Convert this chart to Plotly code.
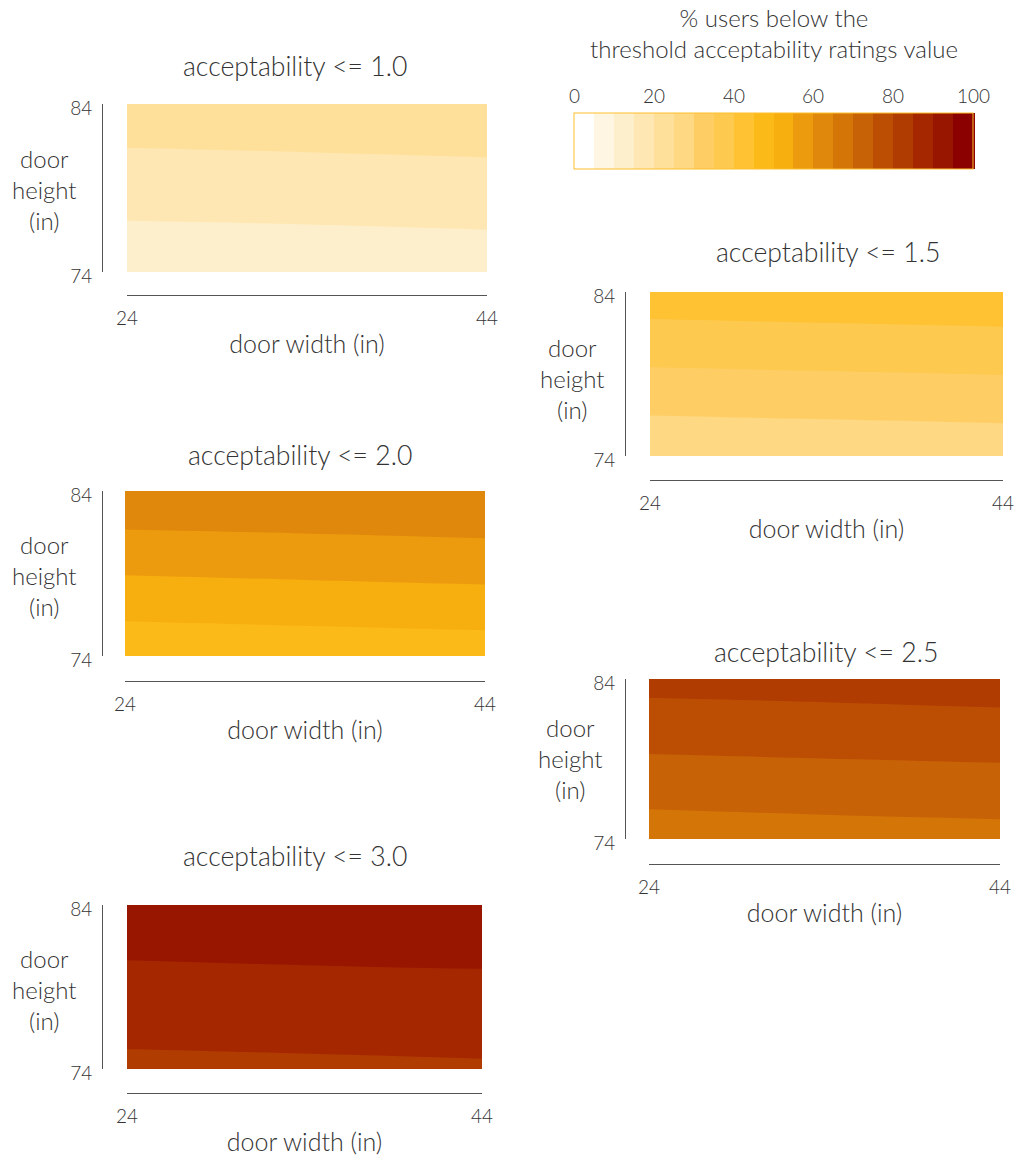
import plotly.graph_objects as go

W, H = 1029, 1164

# ---------------- data ----------------
widths = [24, 34, 44]                 # door width (in)
heights = [74, 76, 78, 80, 82, 84]    # door height (in)
thresholds = ["1.0", "1.5", "2.0", "2.5", "3.0"]

# % users below threshold; rows = heights, cols = widths
z_10 = [[11.4, 11.7, 12.0],
        [13.8, 14.0, 14.4],
        [16.1, 16.4, 16.7],
        [18.4, 18.7, 19.0],
        [20.7, 21.0, 21.4],
        [23.0, 23.3, 23.7]]
z_15 = [[25.8, 26.2, 26.7],
        [29.2, 29.6, 30.0],
        [32.6, 33.0, 33.4],
        [36.0, 36.4, 36.8],
        [39.4, 39.8, 40.2],
        [42.8, 43.2, 43.6]]
z_20 = [[46.3, 46.8, 47.2],
        [49.8, 50.3, 50.8],
        [53.4, 53.9, 54.4],
        [57.0, 57.5, 58.0],
        [60.6, 61.0, 61.5],
        [64.1, 64.5, 64.9]]
z_25 = [[67.4, 67.8, 68.2],
        [70.2, 70.7, 71.1],
        [73.1, 73.5, 73.9],
        [76.0, 76.4, 76.8],
        [78.8, 79.2, 79.7],
        [81.7, 82.1, 82.5]]
z_30 = [[83.9, 84.1, 84.4],
        [85.7, 86.0, 86.3],
        [87.6, 87.8, 88.1],
        [89.4, 89.7, 89.9],
        [91.3, 91.5, 91.8],
        [93.1, 93.4, 93.6]]
z_all = [z_10, z_15, z_20, z_25, z_30]

band_colors = ["#ffffff", "#fef6e3", "#feefcc", "#fee7b2", "#fee09a",
               "#fed883", "#fece65", "#fdc94f", "#fec233", "#fbba18",
               "#f7ae0f", "#ec9b0e", "#e0880c", "#d47508", "#c86206",
               "#bc4e04", "#b03c02", "#a42700", "#981500", "#8b0000"]
cb_ticks = [0, 20, 40, 60, 80, 100]
level_start, level_end, level_size = 0, 100, 5

# ---------------- layout (page pixels) ----------------
# plot box x0,x1,y0,y1 ; y-axis line x ; x-axis line y ; title pos ; y-title pos
panels = [
    dict(x0=127, x1=487, y0=104, y1=272, yl=102, xl=295, t=(295, 66), yt=(44, 190)),
    dict(x0=650, x1=1003, y0=292, y1=456, yl=625, xl=480, t=(828, 252), yt=(572, 379)),
    dict(x0=125, x1=485, y0=491, y1=656, yl=102, xl=681, t=(300, 455), yt=(44, 575)),
    dict(x0=649, x1=1000, y0=679, y1=839, yl=625, xl=864, t=(826, 652), yt=(570, 758)),
    dict(x0=127, x1=482, y0=905, y1=1069, yl=102, xl=1093, t=(295, 856), yt=(44, 989)),
]
cb = dict(x0=574, x1=973, y0=113, y1=169)


def px(x):
    return x / W


def py(y):
    return 1 - y / H


FONT = "Lato"
TXT = "#333333"
LINE = "#555555"

# stepped colour scale: one flat step per 5% band over [0, 100]
n = len(band_colors)
colorscale = []
for k, c in enumerate(band_colors):
    colorscale.append([k / n, c])
    colorscale.append([(k + 1) / n, c])

fig = go.Figure()
annotations = []
layout = {}

for i, (p, z, th) in enumerate(zip(panels, z_all, thresholds)):
    sx = "" if i == 0 else str(i + 1)
    tr = go.Contour(
        x=widths, y=heights, z=z,
        zmin=level_start, zmax=level_end,
        contours=dict(start=level_start, end=level_end, size=level_size,
                      coloring="fill", showlines=False),
        line=dict(width=0),
        colorscale=colorscale,
        showscale=(i == 0),
        xaxis="x" + sx, yaxis="y" + sx,
        hovertemplate="width %{x}<br>height %{y}<br>%{z:.1f}%<extra></extra>",
    )
    if i == 0:
        tr.colorbar = dict(
            orientation="h",
            x=px((cb["x0"] + cb["x1"]) / 2), xanchor="center",
            y=py(cb["y0"]), yanchor="top",
            len=cb["x1"] - cb["x0"], lenmode="pixels",
            thickness=cb["y1"] - cb["y0"], thicknessmode="pixels",
            xpad=0, ypad=0,
            outlinecolor="#fdbf2d", outlinewidth=1,
            showticklabels=False, ticks="",
        )
    fig.add_trace(tr)

    layout["xaxis" + sx] = dict(
        domain=[px(p["x0"]), px(p["x1"])], range=[24, 44],
        anchor="free", position=py(p["xl"]),
        showline=True, linecolor=LINE, linewidth=1,
        tickvals=[24, 44], ticks="", showgrid=False, zeroline=False,
        ticklabelstandoff=6,
        tickfont=dict(family=FONT, size=19, color=TXT, weight=300),
        title=dict(text="door width (in)", standoff=7,
                   font=dict(family=FONT, size=25, color=TXT, weight=300)),
    )
    layout["yaxis" + sx] = dict(
        domain=[py(p["y1"]), py(p["y0"])], range=[74, 84],
        anchor="free", position=px(p["yl"]),
        showline=True, linecolor=LINE, linewidth=1,
        tickvals=[74, 84], ticks="", showgrid=False, zeroline=False,
        ticklabelstandoff=6, ticklabelshift=4,
        tickfont=dict(family=FONT, size=19, color=TXT, weight=300),
    )
    annotations.append(dict(
        text="acceptability <= " + th, x=px(p["t"][0]), y=py(p["t"][1]),
        xref="paper", yref="paper", xanchor="center", yanchor="middle",
        showarrow=False, font=dict(family=FONT, size=26.6, color=TXT, weight=300)))
    annotations.append(dict(
        text="door<br>height<br>(in)", x=px(p["yt"][0]), y=py(p["yt"][1]),
        xref="paper", yref="paper", xanchor="center", yanchor="middle",
        align="center", showarrow=False,
        font=dict(family=FONT, size=24, color=TXT, weight=300)))

# colorbar tick labels (placed along the bar) and title
for v in cb_ticks:
    xv = cb["x0"] + (v - level_start) / (level_end - level_start) * (cb["x1"] - cb["x0"])
    annotations.append(dict(
        text=str(v), x=px(xv), y=py(cb["y0"] - 4),
        xref="paper", yref="paper", xanchor="center", yanchor="bottom",
        showarrow=False, font=dict(family=FONT, size=19, color=TXT, weight=300)))
annotations.append(dict(
    text="% users below the<br>threshold acceptability ratings value",
    x=px((cb["x0"] + cb["x1"]) / 2), y=py(33),
    xref="paper", yref="paper", xanchor="center", yanchor="middle",
    align="center", showarrow=False,
    font=dict(family=FONT, size=24, color=TXT, weight=300)))

fig.update_layout(
    width=W, height=H,
    margin=dict(l=0, r=0, t=0, b=0, autoexpand=False),
    paper_bgcolor="white", plot_bgcolor="white",
    showlegend=False,
    annotations=annotations,
    **layout,
)

fig.write_html("out.html")
